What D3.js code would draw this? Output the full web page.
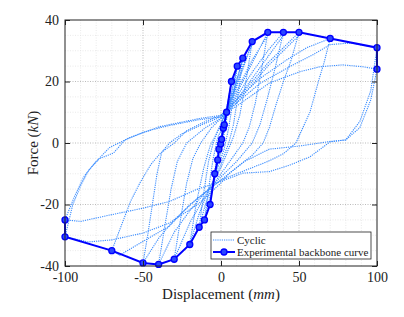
<!DOCTYPE html>
<html>
<head>
<meta charset="utf-8">
<script src="https://cdn.jsdelivr.net/npm/d3@7"></script>
<style>
  body { margin: 0; background: #fff; }
  text { font-family: "Liberation Serif", "Times New Roman", serif; }
</style>
</head>
<body>
<svg id="chart"></svg>
<script>
// backbone curve (displacement mm, force kN)
var bbX = [-100, -100, -70, -50, -40, -30, -20, -14, -10.6, -7, -4, -2.1, -1.3, -0.2, 0.4, 1.5, 2.1, 3.6, 6.7, 10.4, 14, 20, 30, 40, 50, 70, 100, 100];
var bbY = [-25, -30.5, -35, -39, -39.5, -37.8, -33, -27.4, -25, -20, -10, -5.5, -2, -0.3, 1.2, 4.8, 5.9, 10, 20, 25, 27.6, 33, 36, 36, 36, 34, 31, 24];

// cyclic loops, one array per amplitude
var cyc4 = [[0,-1],[3.6,10],[2,5],[0,0],[-3.4,-9.9],[-2,-5],[0,1],[3.6,10]];
var cyc7 = [[0,1],[6.7,20],[4,9],[1,0],[0,-3],[-4,-10],[-7,-20],[-4,-9],[-1,0],[0,2],[3,9],[6.7,20]];
var cyc10 = [[0,2],[4,10],[10.4,25],[8,15],[5,5],[2,-2],[0,-5],[-4,-11],[-10.6,-25],[-8,-15],[-5,-5],[-2,2],[0,4],[5,12],[10,24]];
var cyc14 = [[0,4],[5,11],[10,20],[14,27.6],[11,16],[8,6],[5,0],[2,-4],[0,-7],[-5,-13],[-10,-20],[-14,-27.4],[-11,-16],[-8,-6],[-5,0],[-2,4],[0,6],[6,14],[14,27]];
var cyc20 = [[0,6],[7,14],[14,24],[20,33],[16,20],[12,9],[8,2],[4,-3],[0,-8],[-7,-14],[-14,-23],[-20,-33],[-16,-20],[-11,-8],[-7,-1],[-3,3],[0,6],[7,15],[14,25],[20,32]];
var cyc30 = [[0,7],[10,16],[20,26],[30,36],[26,24],[22,13],[18,5],[14,0],[7,-5],[0,-10],[-10,-17],[-20,-26],[-30,-37.8],[-26,-25],[-22,-13],[-18,-5],[-13,0],[-6,5],[0,8],[10,17],[20,27],[30,35]];
var cyc40 = [[0,8],[10,15],[20,23],[30,30],[40,36],[35,25],[30,15],[25,6],[20,0],[10,-6],[0,-11],[-10,-16],[-20,-22],[-30,-29],[-40,-39.5],[-36,-27],[-32,-15],[-28,-6],[-22,0],[-10,5],[0,8],[10,14],[20,21],[30,28],[40,35]];
var cyc50 = [[0,9],[10,14],[20,20],[30,26],[40,31],[50,36],[45,27],[40,20],[35,12],[31,5],[27,0],[20,-4],[10,-8],[0,-12],[-15,-18],[-30,-25],[-40,-31],[-50,-39],[-47,-30],[-44,-20],[-41,-10],[-38,-3],[-33,0],[-25,3],[-12,6],[0,8.5],[10,13],[20,19],[30,25],[40,30],[50,35]];
var cyc70 = [[0,9],[10,14],[25,21],[42,27],[55,31],[70,34],[66,26],[63,21],[57,10],[48,0],[40,-3.5],[30,-6],[15,-9],[0,-12],[-20,-20],[-33,-27],[-50,-32],[-65,-36.5],[-70,-35],[-64,-27],[-58,-19],[-52,-13],[-45,-7],[-39,-3.4],[-30,0],[-22,4],[-10,7],[0,9]];
var cyc100a = [[0,9],[10,13],[25,19.4],[44,24.8],[60,29],[70,32],[83,32.5],[100,31],[96,17],[89,7],[80,1],[70,0.5],[50,-1],[31,-2],[15,-6],[5,-10],[0,-13],[-15,-20],[-33,-26],[-50,-29.3],[-70,-31.5],[-85,-32.2],[-100,-30.5],[-95,-20],[-90,-14],[-85,-9],[-80,-6],[-71.5,-1.5],[-58.6,1.7],[-39.5,5.3],[-13.5,8],[0,9]];
var cyc100b = [[0,9],[10,12],[31,19.5],[50.6,23.2],[63.5,24.8],[78,25.4],[91,24.8],[100,24],[96,14],[89,5],[80,1],[70,0.4],[57,-4.5],[44,-7.2],[31,-9.3],[14,-9.8],[0,-12.5],[-15,-15],[-33,-19],[-50,-21.2],[-71,-23.4],[-90,-25.5],[-100,-25],[-94,-17.5],[-88,-11],[-82,-7.2],[-77.6,-5],[-69,-3.3],[-61.5,1],[-50,3.5],[-35,5.5],[-15,7.5],[0,8.5]];
var cycles = [cyc4, cyc7, cyc10, cyc14, cyc20, cyc30, cyc40, cyc50, cyc70, cyc100a, cyc100b];

var xTicks = [-100, -50, 0, 50, 100];
var yTicks = [-40, -20, 0, 20, 40];

var W = 404, H = 317;
var margin = {top: 20, right: 27, bottom: 51, left: 65};
var w = W - margin.left - margin.right;
var h = H - margin.top - margin.bottom;

var svg = d3.select('#chart').attr('width', W).attr('height', H);
var g = svg.append('g').attr('transform', 'translate(' + margin.left + ',' + margin.top + ')');

var x = d3.scaleLinear().domain([-100, 100]).range([0, w]);
var y = d3.scaleLinear().domain([-40, 40]).range([h, 0]);

// minor grid
g.append('g').selectAll('line').data(d3.range(-90, 100, 10).filter(function(d){ return d % 50 != 0; }))
  .enter().append('line')
  .attr('x1', function(d){ return x(d); }).attr('x2', function(d){ return x(d); })
  .attr('y1', 0).attr('y2', h)
  .attr('stroke', '#e4e4e4').attr('stroke-width', 0.8).attr('stroke-dasharray', '1,1.5');
g.append('g').selectAll('line').data(d3.range(-35, 40, 5).filter(function(d){ return d % 20 != 0; }))
  .enter().append('line')
  .attr('x1', 0).attr('x2', w)
  .attr('y1', function(d){ return y(d); }).attr('y2', function(d){ return y(d); })
  .attr('stroke', '#e4e4e4').attr('stroke-width', 0.8).attr('stroke-dasharray', '1,1.5');

// major grid
g.append('g').selectAll('line').data(xTicks.slice(1, -1))
  .enter().append('line')
  .attr('x1', function(d){ return x(d); }).attr('x2', function(d){ return x(d); })
  .attr('y1', 0).attr('y2', h)
  .attr('stroke', '#aaa').attr('stroke-width', 0.8).attr('stroke-dasharray', '1,1.5');
g.append('g').selectAll('line').data(yTicks.slice(1, -1))
  .enter().append('line')
  .attr('x1', 0).attr('x2', w)
  .attr('y1', function(d){ return y(d); }).attr('y2', function(d){ return y(d); })
  .attr('stroke', '#aaa').attr('stroke-width', 0.8).attr('stroke-dasharray', '1,1.5');

var line = d3.line()
  .x(function(d){ return x(d[0]); })
  .y(function(d){ return y(d[1]); });

// cyclic curves
g.append('g').selectAll('path').data(cycles)
  .enter().append('path')
  .attr('d', line)
  .attr('fill', 'none')
  .attr('stroke', '#3a8cff')
  .attr('stroke-width', 1.1)
  .attr('stroke-dasharray', '1.2,1');

// backbone
var bb = bbX.map(function(d, i){ return [d, bbY[i]]; });
g.append('path').datum(bb)
  .attr('d', line)
  .attr('fill', 'none')
  .attr('stroke', '#0000ff')
  .attr('stroke-width', 2);
g.append('g').selectAll('circle').data(bb)
  .enter().append('circle')
  .attr('cx', function(d){ return x(d[0]); })
  .attr('cy', function(d){ return y(d[1]); })
  .attr('r', 3)
  .attr('fill', '#2a45ff')
  .attr('stroke', '#0000ff')
  .attr('stroke-width', 1.3);

// axes (ticks inside, on all sides)
var fmt = function(d){ return d; };
g.append('g').attr('transform', 'translate(0,' + h + ')')
  .call(d3.axisBottom(x).tickValues(xTicks).tickSizeInner(-5).tickSizeOuter(0).tickPadding(6).tickFormat(fmt));
g.append('g')
  .call(d3.axisLeft(y).tickValues(yTicks).tickSizeInner(-5).tickSizeOuter(0).tickPadding(6).tickFormat(fmt));
g.append('g').attr('transform', 'translate(' + w + ',0)')
  .call(d3.axisRight(y).tickValues(yTicks).tickSizeInner(-5).tickSizeOuter(0).tickFormat(''));
g.append('g')
  .call(d3.axisTop(x).tickValues(xTicks).tickSizeInner(-5).tickSizeOuter(0).tickFormat(''));
g.selectAll('.domain').remove();
g.selectAll('.tick line').attr('stroke', '#222');
g.selectAll('.tick text').attr('font-size', 14).attr('fill', '#222')
  .style('font-family', '"Liberation Serif", serif');

g.append('rect').attr('width', w).attr('height', h)
  .attr('fill', 'none').attr('stroke', '#222').attr('stroke-width', 1);

// axis titles
var xl = svg.append('text').attr('x', margin.left + w / 2).attr('y', 299)
  .attr('text-anchor', 'middle').attr('font-size', 15).attr('fill', '#222');
xl.append('tspan').text('Displacement (');
xl.append('tspan').attr('font-style', 'italic').text('mm');
xl.append('tspan').text(')');

var yl = svg.append('text').attr('transform', 'translate(38,' + (margin.top + h / 2) + ') rotate(-90)')
  .attr('text-anchor', 'middle').attr('font-size', 15).attr('fill', '#222');
yl.append('tspan').text('Force (');
yl.append('tspan').attr('font-style', 'italic').text('kN');
yl.append('tspan').text(')');

// legend
var lg = svg.append('g').attr('transform', 'translate(211,232)');
lg.append('rect').attr('width', 160).attr('height', 27)
  .attr('fill', '#fff').attr('stroke', '#222').attr('stroke-width', 0.8);
lg.append('line').attr('x1', 2).attr('x2', 24).attr('y1', 8).attr('y2', 8)
  .attr('stroke', '#3a8cff').attr('stroke-width', 1.1).attr('stroke-dasharray', '1.2,1');
lg.append('line').attr('x1', 2).attr('x2', 24).attr('y1', 20).attr('y2', 20)
  .attr('stroke', '#0000ff').attr('stroke-width', 2);
lg.append('circle').attr('cx', 13).attr('cy', 20).attr('r', 3)
  .attr('fill', '#2a45ff').attr('stroke', '#0000ff').attr('stroke-width', 1.3);
lg.append('text').attr('x', 26).attr('y', 12).attr('font-size', 11).attr('fill', '#222').text('Cyclic');
lg.append('text').attr('x', 26).attr('y', 24).attr('font-size', 11).attr('fill', '#222').text('Experimental backbone curve');
</script>
</body>
</html>
